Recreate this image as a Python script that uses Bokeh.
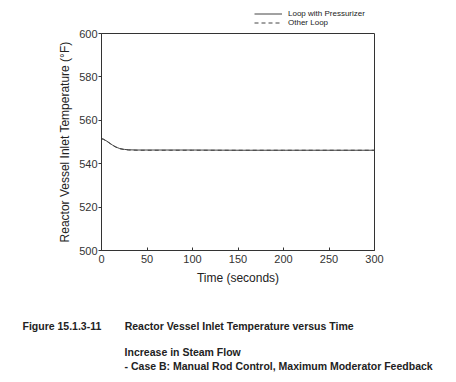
from bokeh.plotting import figure
from bokeh.models import Legend, LegendItem, Range1d, FixedTicker, Title
from bokeh.layouts import column
from bokeh.embed import file_html
from bokeh.resources import INLINE

# Data
time_s = [0, 2, 5, 8, 10, 12, 15, 18, 20, 25, 30, 40, 50, 75, 100, 150, 200, 250, 300]
loop_pressurizer = [551.5, 551.3, 550.6, 549.8, 549.2, 548.6, 547.9, 547.3, 547.0, 546.6,
                    546.4, 546.3, 546.3, 546.3, 546.3, 546.2, 546.2, 546.2, 546.2]
other_loop = [551.5, 551.3, 550.5, 549.7, 549.1, 548.5, 547.8, 547.2, 546.9, 546.5,
              546.3, 546.2, 546.2, 546.2, 546.2, 546.2, 546.2, 546.2, 546.2]
x_ticks = [0, 50, 100, 150, 200, 250, 300]
y_ticks = [500, 520, 540, 560, 580, 600]
series_labels = ["Loop with Pressurizer", "Other Loop"]
caption_number = "Figure 15.1.3-11"
caption_title = "Reactor Vessel Inlet Temperature versus Time"
caption_lines = ["Increase in Steam Flow",
                 "- Case B: Manual Rod Control, Maximum Moderator Feedback"]

FONT = "Liberation Sans"
INK = "#333333"
LINE = "#444444"
W = 456
LEG_H = 27
FL, FR = 101, 374

# ---- legend strip (its own small figure; the lines sit outside its view) ----
lg = figure(width=W, height=LEG_H, output_backend="svg", toolbar_location=None,
            x_range=Range1d(-2, -1), y_range=Range1d(0, 1),
            x_axis_location=None, y_axis_location=None,
            min_border_left=FL, min_border_right=W - FR, min_border_top=0, min_border_bottom=0)
lg.grid.visible = False
lg.outline_line_color = None
lr1 = lg.line(time_s, loop_pressurizer, line_color=LINE, line_width=1)
lr2 = lg.line(time_s, other_loop, line_color=LINE, line_width=1, line_dash="4 3")
legend = Legend(items=[LegendItem(label=series_labels[0], renderers=[lr1]),
                       LegendItem(label=series_labels[1], renderers=[lr2])],
                location=(254 - FL, 0), orientation="vertical",
                label_text_font=FONT, label_text_font_size="8px",
                label_text_color="#222222",
                glyph_width=28, glyph_height=9, label_height=9,
                spacing=0, padding=0, margin=0, label_standoff=6,
                border_line_color=None, background_fill_alpha=0)
lg.add_layout(legend, "center")

# ---- main chart ----
H = 382 - LEG_H
FT, FB = 33 - LEG_H, 250 - LEG_H

p = figure(width=W, height=H, output_backend="svg", toolbar_location=None,
           x_range=Range1d(0, 300), y_range=Range1d(500, 600),
           min_border_left=FL, min_border_right=W - FR,
           min_border_top=FT, min_border_bottom=H - FB)
p.grid.visible = False
p.outline_line_color = INK
p.outline_line_width = 1

p.line(time_s, loop_pressurizer, line_color=LINE, line_width=1)
p.line(time_s, other_loop, line_color=LINE, line_width=1, line_dash="4 3")

for ax in (p.xaxis[0], p.yaxis[0]):
    ax.axis_line_color = INK
    ax.major_tick_line_color = INK
    ax.minor_tick_line_color = None
    ax.major_label_text_font = FONT
    ax.major_label_text_font_size = "11px"
    ax.major_label_text_color = INK
    ax.axis_label_text_font = FONT
    ax.axis_label_text_font_style = "normal"
    ax.axis_label_text_color = "#222222"

p.xaxis.axis_label_text_font_size = "12px"
p.yaxis.axis_label_text_font_size = "12px"
p.xaxis.ticker = FixedTicker(ticks=x_ticks)
p.yaxis.ticker = FixedTicker(ticks=y_ticks)
p.xaxis.major_tick_in = 3
p.xaxis.major_tick_out = 0
p.yaxis.major_tick_in = 0
p.yaxis.major_tick_out = 3
p.xaxis.major_label_standoff = 4
p.yaxis.major_label_standoff = 1
p.xaxis.axis_label = "Time (seconds)"
p.yaxis.axis_label = "Reactor Vessel Inlet Temperature (°F)"
p.xaxis.axis_label_standoff = 5
p.yaxis.axis_label_standoff = 4

NB = "\u00a0"
caption_text = "\n".join([
    NB,
    NB,
    caption_number + NB * 8 + caption_title,
    NB,
    NB * 35 + caption_lines[0],
    NB * 35 + caption_lines[1],
])
p.add_layout(Title(text=caption_text, align="left", offset=22 - FL, standoff=8,
                   text_font=FONT, text_font_size="10.5px", text_font_style="bold",
                   text_color="#222222", text_line_height=1.1), "below")

layout = column(lg, p, spacing=0)
open("out.html", "w").write(file_html(layout, INLINE))
